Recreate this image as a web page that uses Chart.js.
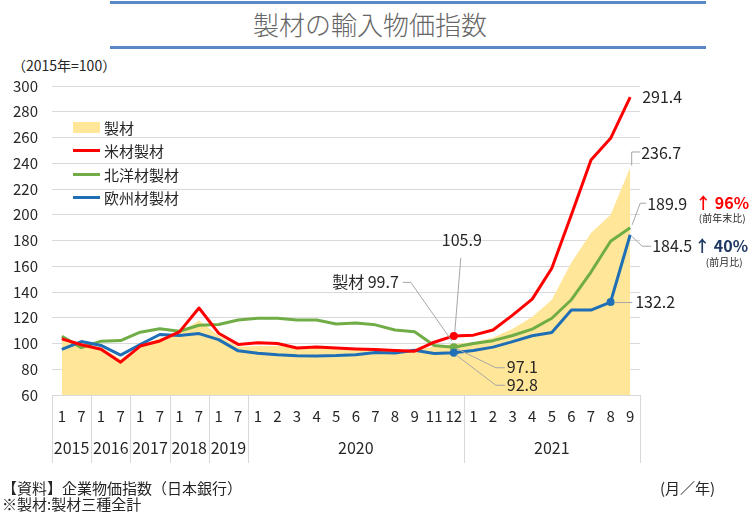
<!DOCTYPE html>
<html><head><meta charset="utf-8">
<script src="https://cdn.jsdelivr.net/npm/chart.js@4"></script>
<style>
html,body{margin:0;padding:0;background:#fff;}
body{width:756px;height:529px;position:relative;overflow:hidden;font-family:"Noto Sans CJK JP","Noto Sans",sans-serif;color:#262626;}
#c{position:absolute;left:0;top:0;}
.abs{position:absolute;white-space:nowrap;line-height:1;}
.rule{position:absolute;left:110px;width:596px;height:3px;background:#5B87C6;}
.lg{position:absolute;left:73px;width:27px;}
.lt{position:absolute;left:104px;font-size:15px;line-height:1;white-space:nowrap;}
</style></head>
<body>
<div class="rule" style="top:1px"></div>
<div class="abs" style="left:0;width:740px;text-align:center;top:11px;font-size:26px;font-weight:300;color:#666666;">製材の輸入物価指数</div>
<div class="rule" style="top:46px"></div>
<div class="abs" style="left:12px;top:58px;font-size:14px;">（2015年=100）</div>
<canvas id="c" width="756" height="529" style="width:756px;height:529px"></canvas>
<div class="lg" style="top:122px;height:11px;background:#FFE699"></div>
<div class="lt" style="top:120px">製材</div>
<div class="lg" style="top:149px;height:3px;background:#FF0000"></div>
<div class="lt" style="top:143px">米材製材</div>
<div class="lg" style="top:173px;height:3px;background:#70AD47"></div>
<div class="lt" style="top:167px">北洋材製材</div>
<div class="lg" style="top:196px;height:3px;background:#1F6FB6"></div>
<div class="lt" style="top:190px">欧州材製材</div>
<div class="abs" style="left:2px;top:480px;font-size:15px;">【資料】企業物価指数（日本銀行）</div>
<div class="abs" style="left:2px;top:496px;font-size:15px;">※製材:製材三種全計</div>
<div class="abs" style="left:660px;top:480px;font-size:15px;">(月／年)</div>
<script>
const FAMILY = '"Noto Sans CJK JP","Noto Sans",sans-serif';
const months = ['1','7','1','7','1','7','1','7','1','7','1','2','3','4','5','6','7','8','9','11','12','1','2','3','4','5','6','7','8','9'];
const yearLabels = ['2015','2016','2017','2018','2019','2020','2021'];
const yearSpans = [2,2,2,2,2,11,9];
const seizai = [102.5,99,97,88,98,104,108,118,106,97.5,98,98,97,96.5,96,96,95.5,95.5,95,97.5,99.7,101,104.5,111.5,120.5,134,163,185.8,200,236.7];
const beizai = [103.6,99,95.5,85.5,98,102,109,127.6,108,99.3,100.6,100,96.5,97.2,96.5,95.8,95.3,94.5,94,101,105.9,106.5,110.5,122,134.5,158.5,200,242.6,259.4,291.4];
const hokuyo = [105.5,96.8,101.8,102.3,108.8,111.4,109.5,114.2,114.8,118.3,119.6,119.6,118.3,118.2,115.2,116,114.5,110.5,109.2,98.5,97.1,100,102.2,106.2,111.2,119.6,134,155.5,179.4,189.9];
const oshu = [95.4,101.5,98.5,91,99.2,107,106.2,107.7,103,94.3,92.5,91.2,90.5,90.3,90.6,91.3,93,92.6,94.8,92.2,92.8,94.6,97.2,101.5,106,108.5,126,126,132.2,184.5];
const yTicks = {min:60, max:300, step:20};
const markRed = [20], markGreen = [20], markBlue = [20, 28];

const radii = (marks) => months.map((_, i) => marks.includes(i) ? 4 : 0);

const extras = {
  id: 'extras',
  afterDraw(chart) {
    const {ctx, chartArea, scales:{x, y}} = chart;
    const px = i => x.getPixelForValue(i);
    const py = v => y.getPixelForValue(v);
    const half = (px(1) - px(0)) / 2;
    const b = chartArea.bottom;
    ctx.save();
    ctx.font = '15px ' + FAMILY; ctx.fillStyle = '#262626';
    ctx.textAlign = 'center'; ctx.textBaseline = 'middle';
    months.forEach((m, i) => ctx.fillText(m, px(i), b + 21));
    ctx.strokeStyle = '#d9d9d9'; ctx.lineWidth = 1;
    const sep = p => { const xx = Math.round(p) + 0.5; ctx.beginPath(); ctx.moveTo(xx, b); ctx.lineTo(xx, b + 68); ctx.stroke(); };
    sep(px(0) - half);
    ctx.font = '16px ' + FAMILY;
    let start = 0;
    yearLabels.forEach((yl, k) => {
      const end = start + yearSpans[k] - 1;
      const l = px(start) - half, r = px(end) + half;
      ctx.fillText(yl, (l + r) / 2, b + 53);
      sep(r);
      start = end + 1;
    });
    const n = months.length - 1;
    const X = px(n), X20 = px(20), X28 = px(28);
    ctx.strokeStyle = '#a6a6a6'; ctx.lineWidth = 1;
    const leader = pts => { ctx.beginPath(); ctx.moveTo(pts[0][0], pts[0][1]); pts.slice(1).forEach(p => ctx.lineTo(p[0], p[1])); ctx.stroke(); };
    const txt = (s, xx, yy, align, font, color) => { ctx.font = font || ('16px ' + FAMILY); ctx.fillStyle = color || '#262626'; ctx.textAlign = align || 'left'; ctx.textBaseline = 'middle'; ctx.fillText(s, xx, yy); };
    txt(beizai[n].toFixed(1), X + 12, py(beizai[n]));
    let yy = py(seizai[n]);
    leader([[X + 1.5, yy - 2], [X + 1.5, yy - 15.5], [X + 10, yy - 15.5]]);
    txt(seizai[n].toFixed(1), X + 11, yy - 15);
    yy = py(hokuyo[n]);
    leader([[X + 2, yy - 3], [X + 10, yy - 24.5], [X + 16, yy - 24.5]]);
    txt(hokuyo[n].toFixed(1), X + 17, yy - 24);
    txt('↑ 96%', X + 65, yy - 25, 'left', 'bold 16px ' + FAMILY, '#FF0000');
    txt('(前年末比)', X + 92, yy - 10, 'center', '10px ' + FAMILY, '#262626');
    yy = py(oshu[n]);
    leader([[X + 2, yy + 2], [X + 12, yy + 11.5], [X + 21, yy + 11.5]]);
    txt(oshu[n].toFixed(1), X + 22, yy + 11);
    txt('↑ 40%', X + 64, yy + 11, 'left', 'bold 16px ' + FAMILY, '#1F3864');
    txt('(前月比)', X + 94, yy + 27, 'center', '10px ' + FAMILY, '#262626');
    yy = py(oshu[28]);
    leader([[X28 + 4, yy + 0.5], [X + 2, yy + 0.5]]);
    txt(oshu[28].toFixed(1), X + 5, yy);
    yy = py(beizai[20]);
    leader([[X20 + 1, yy - 4], [X20 + 7, yy - 78]]);
    txt(beizai[20].toFixed(1), X20 + 8, yy - 96, 'center');
    yy = py(seizai[20]);
    leader([[X20 - 51, yy - 61.5], [X20 - 43, yy - 61.5], [X20 - 2, yy - 3]]);
    txt('製材 ' + seizai[20].toFixed(1), X20 - 55, yy - 62, 'right');
    yy = py(hokuyo[20]);
    leader([[X20 + 2, yy + 1], [X20 + 42, yy + 20.5], [X20 + 51, yy + 20.5]]);
    txt(hokuyo[20].toFixed(1), X20 + 53, yy + 20);
    yy = py(oshu[20]);
    leader([[X20 + 2, yy + 2], [X20 + 42, yy + 32.5], [X20 + 51, yy + 32.5]]);
    txt(oshu[20].toFixed(1), X20 + 53, yy + 32);
    ctx.restore();
  }
};

new Chart(document.getElementById('c'), {
  type: 'line',
  data: {
    labels: months,
    datasets: [
      {label:'製材', data: seizai, fill:'start', backgroundColor:'#FFE699', borderWidth:0, pointRadius:0, order:4},
      {label:'北洋材製材', data: hokuyo, borderColor:'#70AD47', backgroundColor:'#70AD47', borderWidth:3, pointRadius: radii(markGreen), pointBackgroundColor:'#70AD47', pointBorderWidth:0, fill:false, order:3},
      {label:'欧州材製材', data: oshu, borderColor:'#1F6FB6', backgroundColor:'#1F6FB6', borderWidth:3, pointRadius: radii(markBlue), pointBackgroundColor:'#1F6FB6', pointBorderWidth:0, fill:false, order:2},
      {label:'米材製材', data: beizai, borderColor:'#FF0000', backgroundColor:'#FF0000', borderWidth:3, pointRadius: radii(markRed), pointBackgroundColor:'#FF0000', pointBorderWidth:0, fill:false, order:1}
    ]
  },
  options: {
    responsive: false, animation: false, devicePixelRatio: 1,
    layout: {padding: {left: 0, right: 116, top: 86, bottom: 134}},
    plugins: {legend: {display: false}, tooltip: {enabled: false}},
    elements: {line: {tension: 0, borderJoinStyle: 'round'}},
    scales: {
      x: {offset: true, grid: {display: false}, border: {display: false}, ticks: {display: false}, afterFit: s => { s.height = 0; }},
      y: {min: yTicks.min, max: yTicks.max,
          ticks: {stepSize: yTicks.step, font: {size: 15, family: FAMILY}, color: '#262626', padding: 14},
          grid: {color: '#d9d9d9', drawTicks: false}, border: {display: false},
          afterFit: s => { s.width = 52; }}
    }
  },
  plugins: [extras]
});
</script>
</body></html>
